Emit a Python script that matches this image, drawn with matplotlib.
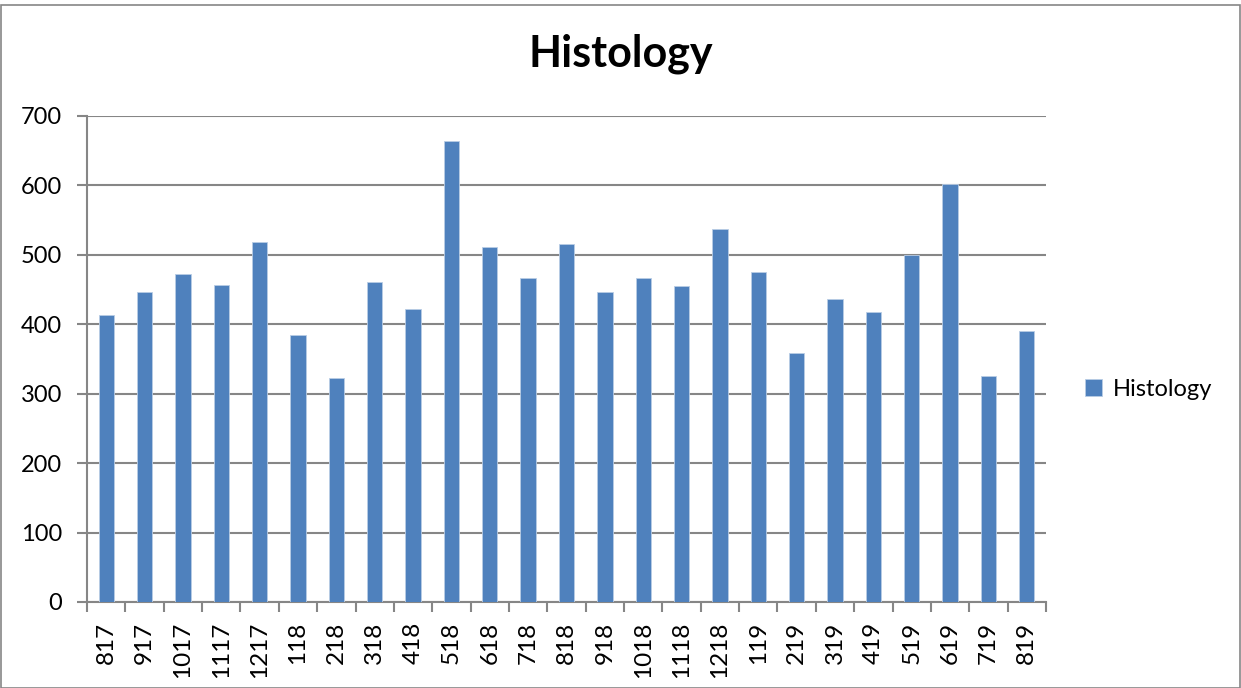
import matplotlib
matplotlib.use("Agg")
import matplotlib.pyplot as plt
from matplotlib.patches import Rectangle
import numpy as np

categories = ["817", "917", "1017", "1117", "1217", "118", "218", "318", "418", "518",
              "618", "718", "818", "918", "1018", "1118", "1218", "119", "219", "319",
              "419", "519", "619", "719", "819"]
values = [413, 447, 473, 456, 518, 385, 323, 461, 422, 664,
          511, 466, 516, 446, 467, 455, 537, 476, 359, 436,
          418, 500, 602, 325, 391]
y_ticks = [0, 100, 200, 300, 400, 500, 600, 700]
series_name = "Histology"
title = "Histology"

plt.rcParams['font.family'] = ['Lato', 'DejaVu Sans']

W, H = 1241, 688
fig = plt.figure(figsize=(W / 100, H / 100), dpi=100)
ax = fig.add_axes([87 / W, 1 - 602 / H, (1046 - 87) / W, (602 - 116) / H])

x = np.arange(len(categories))
bars = ax.bar(x, values, width=0.4, color="#4F81BD", edgecolor="#B9CDE5", linewidth=0.6,
              label=series_name, zorder=3)

ax.set_xlim(-0.5, len(categories) - 0.5)
ax.set_ylim(0, 700)
ax.set_yticks(y_ticks)
ax.set_yticklabels([str(v) for v in y_ticks], fontsize=17)
ax.yaxis.grid(True, color="#868686", linewidth=1.5, zorder=0)
ax.set_axisbelow(True)

ax.set_xticks(np.arange(-0.5, len(categories), 1.0))
ax.set_xticklabels([])
ax.set_xticks(x, minor=True)
ax.set_xticklabels(categories, minor=True, rotation=90, fontsize=17.5)
ax.tick_params(axis='x', which='major', length=7, width=1.5, color="#868686", direction='out')
ax.tick_params(axis='x', which='minor', length=0, pad=14)
ax.tick_params(axis='y', length=7, width=1.5, color="#868686", direction='out', pad=11)

for s in ["top", "right"]:
    ax.spines[s].set_visible(False)
for s in ["left", "bottom"]:
    ax.spines[s].set_color("#868686")
    ax.spines[s].set_linewidth(1.5)

fig.text(621 / W, 1 - 67 / H, title, ha="center", va="baseline", fontsize=31, fontweight="bold")

leg = fig.legend(handles=[bars], labels=[series_name], loc="center left",
                 bbox_to_anchor=(1080 / W, 1 - 389 / H), frameon=False, fontsize=17,
                 handlelength=0.75, handleheight=0.75, handletextpad=0.45,
                 borderaxespad=0, borderpad=0.2)

fig.patches.append(Rectangle((0.5 / W, 0), (W - 2) / W, 1 - 5 / H, transform=fig.transFigure,
                             fill=False, edgecolor="#868686", linewidth=1.2))

fig.savefig("out.png", dpi=100)
